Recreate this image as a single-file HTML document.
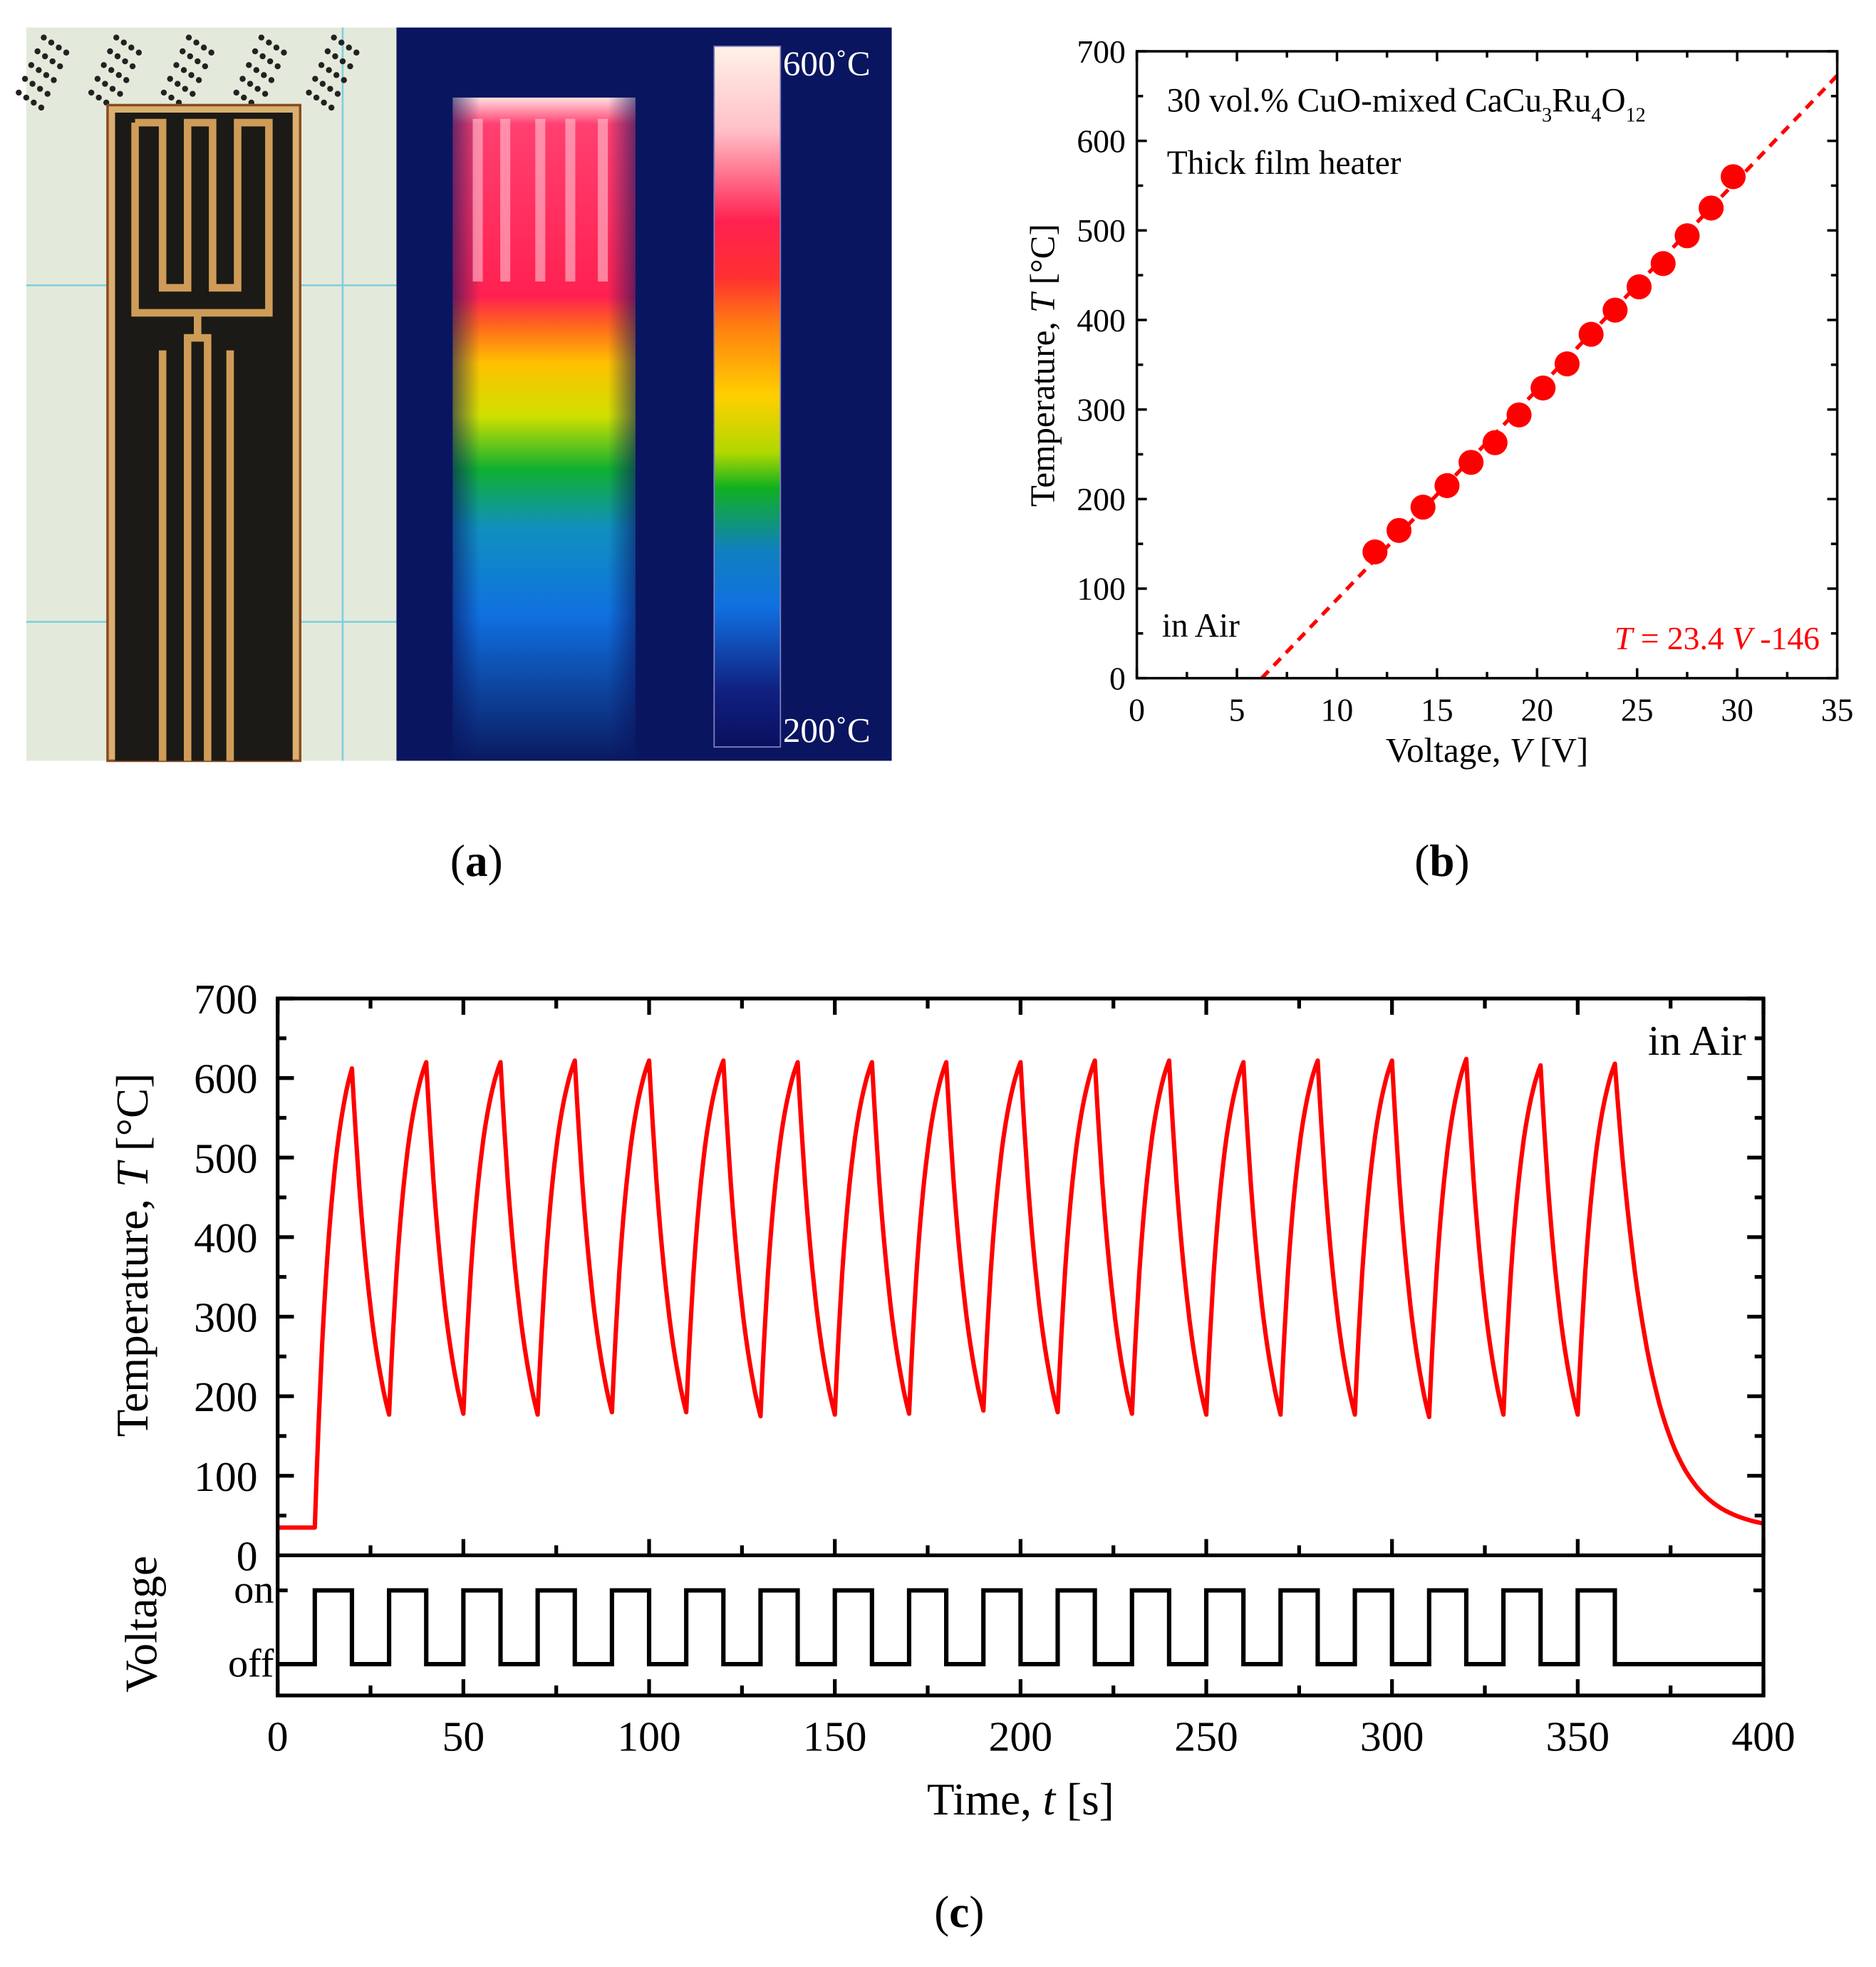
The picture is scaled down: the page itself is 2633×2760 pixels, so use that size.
<!DOCTYPE html>
<html><head><meta charset="utf-8">
<style>
html,body{margin:0;padding:0;background:#fff;}
svg{display:block;}
text{font-family:"Liberation Serif",serif;}
</style></head>
<body>
<svg id="fig" width="2633" height="2760" viewBox="0 0 1500 1572" preserveAspectRatio="none" xmlns="http://www.w3.org/2000/svg">
<defs>
<linearGradient id="cbar" x1="0" y1="0" x2="0" y2="1">
<stop offset="0" stop-color="#fff2e6"/><stop offset="0.12" stop-color="#ffc0c8"/><stop offset="0.25" stop-color="#ff2050"/><stop offset="0.33" stop-color="#ff3030"/><stop offset="0.4" stop-color="#ff8010"/><stop offset="0.5" stop-color="#ffd000"/><stop offset="0.58" stop-color="#b0d800"/><stop offset="0.63" stop-color="#10b020"/><stop offset="0.72" stop-color="#1080c0"/><stop offset="0.8" stop-color="#1070e0"/><stop offset="0.92" stop-color="#102080"/><stop offset="1" stop-color="#0a1060"/>
</linearGradient>
<linearGradient id="heat" x1="0" y1="0" x2="0" y2="1">
<stop offset="0" stop-color="#ffe0e0"/><stop offset="0.04" stop-color="#ff4070"/><stop offset="0.3" stop-color="#ff2050"/><stop offset="0.34" stop-color="#ff6020"/><stop offset="0.4" stop-color="#ffc000"/><stop offset="0.48" stop-color="#d0e000"/><stop offset="0.56" stop-color="#10b030"/><stop offset="0.65" stop-color="#1090c0"/><stop offset="0.78" stop-color="#1070e0"/><stop offset="1" stop-color="#0a1a60"/>
</linearGradient>
<linearGradient id="fade" x1="0" y1="0" x2="1" y2="0">
<stop offset="0" stop-color="#0a1560" stop-opacity="0.6"/><stop offset="0.15" stop-color="#0a1560" stop-opacity="0"/><stop offset="0.85" stop-color="#0a1560" stop-opacity="0"/><stop offset="1" stop-color="#0a1560" stop-opacity="0.6"/>
</linearGradient>
</defs>

<g>
<rect x="21" y="22" width="296" height="586" fill="#e4eadb"/>
<g stroke="#7fd0dc" stroke-width="1.5">
<line x1="21" y1="228" x2="317" y2="228"/><line x1="21" y1="497" x2="317" y2="497"/><line x1="274" y1="22" x2="274" y2="608"/>
</g>
<g fill="#222" id="dots"></g>
<rect x="86" y="84" width="154" height="524" fill="#d9b070" stroke="#8a4a20" stroke-width="2"/>
<rect x="92" y="90" width="142" height="518" fill="#1b1a16"/>
<g fill="none" stroke="#cf9c58" stroke-width="6">
<path d="M108 98 V250 H132 M108 98 H130 V230 H150 V98 H170 V230 H190 V98 H215 V250 H192 M132 250 H192"/>
<path d="M158 250 V270 M150 608 V270 H166 V608"/>
<path d="M130 608 V280 M184 608 V280"/>
</g>
</g>

<g>
<rect x="317" y="22" width="396" height="586" fill="#0a1560"/>
<rect x="362" y="78" width="146" height="530" fill="url(#heat)"/>
<rect x="362" y="78" width="146" height="530" fill="url(#fade)"/>
<g fill="#ffd0dc" opacity="0.55">
<rect x="378" y="95" width="8" height="130"/><rect x="400" y="95" width="8" height="130"/><rect x="428" y="95" width="8" height="130"/><rect x="452" y="95" width="8" height="130"/><rect x="478" y="95" width="8" height="130"/>
</g>
<rect x="571" y="37" width="53" height="560" fill="url(#cbar)" stroke="#8080c0" stroke-width="1"/>
<text x="626" y="60" font-size="28" fill="#fff">600˚C</text>
<text x="626" y="593" font-size="28" fill="#fff">200˚C</text>
</g>
<text x="381" y="700" font-size="36" text-anchor="middle">(<tspan font-weight="bold">a</tspan>)</text>

<g id="panelB"></g>
<text x="1153" y="700" font-size="36" text-anchor="middle">(<tspan font-weight="bold">b</tspan>)</text>

<g id="panelC"></g>
<text x="767" y="1540" font-size="36" text-anchor="middle">(<tspan font-weight="bold">c</tspan>)</text>
</svg>

<script>
const bVoltage = [11.9,13.1,14.3,15.5,16.7,17.9,19.1,20.3,21.5,22.7,23.9,25.1,26.3,27.5,28.7,29.8];
const bTemp = [141,165,191,215,241,263,294,324,351,384,411,437,463,494,525,560];
const bFitSlope = 23.4;
const bFitIntercept = -146;
const bXTicks = [0,5,10,15,20,25,30,35];
const bYTicks = [0,100,200,300,400,500,600,700];

const cPeakTimes = [20,40,60,80,100,120,140,160,180,200,220,240,260,280,300,320,340,360];
const cPeaks = [612,620,620,622,622,622,620,620,620,620,622,622,620,622,622,624,616,618];
const cTroughs = [177,178,177,180,180,175,177,178,182,180,178,177,177,177,174,177,177];
const cStartTemp = 35;
const cEndTemp = 40;
const cOnStarts = [10,30,50,70,90,110,130,150,170,190,210,230,250,270,290,310,330,350];
const cOnDuration = 10;
const cXTicks = [0,50,100,150,200,250,300,350,400];
const cYTicks = [0,100,200,300,400,500,600,700];

const NS = "http://www.w3.org/2000/svg";
function mk(parent, tag, attrs) {
  const e = document.createElementNS(NS, tag);
  for (const k in attrs) e.setAttribute(k, attrs[k]);
  parent.appendChild(e);
  return e;
}

(function(){
  const g = document.getElementById('panelB');
  const L=909, R=1469, T=41, B=542;
  const xs = v => L + (v-0)/35*(R-L);
  const ys = v => B - v/700*(B-T);
  const x0 = -bFitIntercept/bFitSlope;
  const fit = mk(g,'line',{x1:xs(x0),y1:ys(0),x2:xs(35),y2:ys(bFitSlope*35+bFitIntercept),stroke:'#f00','stroke-width':3,'stroke-dasharray':'8,6'});
  
  
  bVoltage.forEach((v,i)=>{
    const c = mk(g,'circle',{cx:xs(v),cy:ys(bTemp[i]),r:10,fill:'#f00'});
    
    
  });
  const frame = mk(g,'rect',{x:L,y:T,width:R-L,height:B-T,fill:'none',stroke:'#000','stroke-width':2});
  
  
  const tk = mk(g,'g',{stroke:'#000','stroke-width':2});
  for(let v=0; v<=35; v+=2.5){
    const len = (v%5===0)?8:5;
    mk(tk,'line',{x1:xs(v),y1:B,x2:xs(v),y2:B-len});
    mk(tk,'line',{x1:xs(v),y1:T,x2:xs(v),y2:T+len});
  }
  for(let v=0; v<=700; v+=50){
    const len = (v%100===0)?8:5;
    mk(tk,'line',{x1:L,y1:ys(v),x2:L+len,y2:ys(v)});
    mk(tk,'line',{x1:R,y1:ys(v),x2:R-len,y2:ys(v)});
  }
  bXTicks.forEach(v=>{
    const t = mk(g,'text',{x:xs(v),y:B+34,'font-size':26,'text-anchor':'middle'});
    t.textContent = v;
    
    
  });
  bYTicks.forEach(v=>{
    const t = mk(g,'text',{x:L-9,y:ys(v)+9,'font-size':26,'text-anchor':'end'});
    t.textContent = v;
    
    
  });
  const xt = mk(g,'text',{x:1189,y:609,'font-size':28,'text-anchor':'middle'});
  xt.innerHTML = 'Voltage, <tspan font-style="italic">V</tspan> [V]';
  
  
  const yt = mk(g,'text',{x:0,y:0,'font-size':28,'text-anchor':'middle',transform:'translate(843,292) rotate(-90)'});
  yt.innerHTML = 'Temperature, <tspan font-style="italic">T</tspan> [°C]';
  
  
  const a1 = mk(g,'text',{x:933,y:89,'font-size':27});
  a1.innerHTML = '30 vol.% CuO-mixed CaCu<tspan font-size="16" dy="8">3</tspan><tspan dy="-8">Ru</tspan><tspan font-size="16" dy="8">4</tspan><tspan dy="-8">O</tspan><tspan font-size="16" dy="8">12</tspan>';
  
  
  const a2 = mk(g,'text',{x:933,y:139,'font-size':27});
  a2.textContent = 'Thick film heater';
  
  
  const a3 = mk(g,'text',{x:929,y:509,'font-size':27});
  a3.textContent = 'in Air';
  
  
  const a4 = mk(g,'text',{x:1455,y:519,'font-size':26,'text-anchor':'end',fill:'#f00'});
  a4.innerHTML = '<tspan font-style="italic">T</tspan> = 23.4 <tspan font-style="italic">V</tspan> -146';
  
  
})();

(function(){
  const g = document.getElementById('panelC');
  const L=222, R=1410, T=798, B=1243, VB=1355, yOn=1271, yOff=1330;
  const xs = v => L + v/400*(R-L);
  const ys = v => B - v/700*(B-T);
  const pts = [];
  pts.push([0,cStartTemp],[cOnStarts[0],cStartTemp]);
  const k1=2.2, k2=1.6, N=20;
  let prev = cStartTemp;
  for(let i=0;i<cPeakTimes.length;i++){
    const t0 = cPeakTimes[i]-cOnDuration, pk = cPeaks[i];
    for(let j=1;j<=N;j++){const s=j/N; pts.push([t0+s*cOnDuration, prev+(pk-prev)*(1-Math.exp(-k1*s))/(1-Math.exp(-k1))]);}
    if(i<cTroughs.length){
      const tr=cTroughs[i];
      for(let j=1;j<=N;j++){const s=j/N; pts.push([cPeakTimes[i]+s*10, pk+(tr-pk)*(1-Math.exp(-k2*s))/(1-Math.exp(-k2))]);}
      prev=tr;
    }
  }
  const last = cPeaks[cPeaks.length-1], tl = cPeakTimes[cPeakTimes.length-1];
  for(let j=1;j<=60;j++){const s=j/60; const d=40*s; pts.push([tl+d, cEndTemp+(last-cEndTemp)*(Math.exp(-d/9)-Math.exp(-40/9)*s)]);}
  const line = mk(g,'polyline',{points:pts.map(p=>xs(p[0]).toFixed(1)+','+ys(p[1]).toFixed(1)).join(' '),fill:'none',stroke:'#f00','stroke-width':3.5,'stroke-linejoin':'round'});
  
  
  let vp = [[0,yOff]];
  cOnStarts.forEach(s=>{vp.push([s,yOff],[s,yOn],[s+cOnDuration,yOn],[s+cOnDuration,yOff]);});
  vp.push([400,yOff]);
  const vl = mk(g,'polyline',{points:vp.map(p=>xs(p[0]).toFixed(1)+','+p[1]).join(' '),fill:'none',stroke:'#000','stroke-width':3.5});
  
  
  const frame = mk(g,'rect',{x:L,y:T,width:R-L,height:VB-T,fill:'none',stroke:'#000','stroke-width':3});
  
  
  mk(g,'line',{x1:L,y1:B,x2:R,y2:B,stroke:'#000','stroke-width':3});
  const tk = mk(g,'g',{stroke:'#000','stroke-width':3});
  for(let v=0; v<=400; v+=25){
    const len = (v%50===0)?13:8;
    mk(tk,'line',{x1:xs(v),y1:T,x2:xs(v),y2:T+len});
    mk(tk,'line',{x1:xs(v),y1:B,x2:xs(v),y2:B-len});
    mk(tk,'line',{x1:xs(v),y1:VB,x2:xs(v),y2:VB-len});
  }
  for(let v=50; v<=700; v+=50){
    const len = (v%100===0)?13:7;
    mk(tk,'line',{x1:L,y1:ys(v),x2:L+len,y2:ys(v)});
    mk(tk,'line',{x1:R,y1:ys(v),x2:R-len,y2:ys(v)});
  }
  [yOn,yOff].forEach(y=>{mk(tk,'line',{x1:L,y1:y,x2:L+8,y2:y});mk(tk,'line',{x1:R,y1:y,x2:R-8,y2:y});});
  cXTicks.forEach(v=>{
    const t = mk(g,'text',{x:xs(v),y:1399,'font-size':34,'text-anchor':'middle'});
    t.textContent = v;
    
    
  });
  cYTicks.forEach(v=>{
    const t = mk(g,'text',{x:206,y:ys(v)+12,'font-size':34,'text-anchor':'end'});
    t.textContent = v;
    
    
  });
  [['on',yOn],['off',yOff]].forEach(p=>{
    const t = mk(g,'text',{x:219,y:p[1]+10,'font-size':32,'text-anchor':'end'});
    t.textContent = p[0];
    
    
  });
  const xt = mk(g,'text',{x:816,y:1450,'font-size':36,'text-anchor':'middle'});
  xt.innerHTML = 'Time, <tspan font-style="italic">t</tspan> [s]';
  
  
  const yt = mk(g,'text',{x:0,y:0,'font-size':36,'text-anchor':'middle',transform:'translate(118,1003) rotate(-90)'});
  yt.innerHTML = 'Temperature, <tspan font-style="italic">T</tspan> [°C]';
  
  
  const vt = mk(g,'text',{x:0,y:0,'font-size':36,'text-anchor':'middle',transform:'translate(125,1298) rotate(-90)'});
  vt.textContent = 'Voltage';
  
  
  const ia = mk(g,'text',{x:1396,y:843,'font-size':34,'text-anchor':'end'});
  ia.textContent = 'in Air';
  
  
})();

(function(){
  const g = document.getElementById('dots');
  for(let c=0;c<5;c++){
    for(let r=0;r<5;r++){
      for(let j=0;j<4;j++){
        mk(g,'circle',{cx:35+c*58+j*6-r*5,cy:30+r*11+j*4,r:2.4});
      }
    }
  }
})();
</script>
</body></html>
